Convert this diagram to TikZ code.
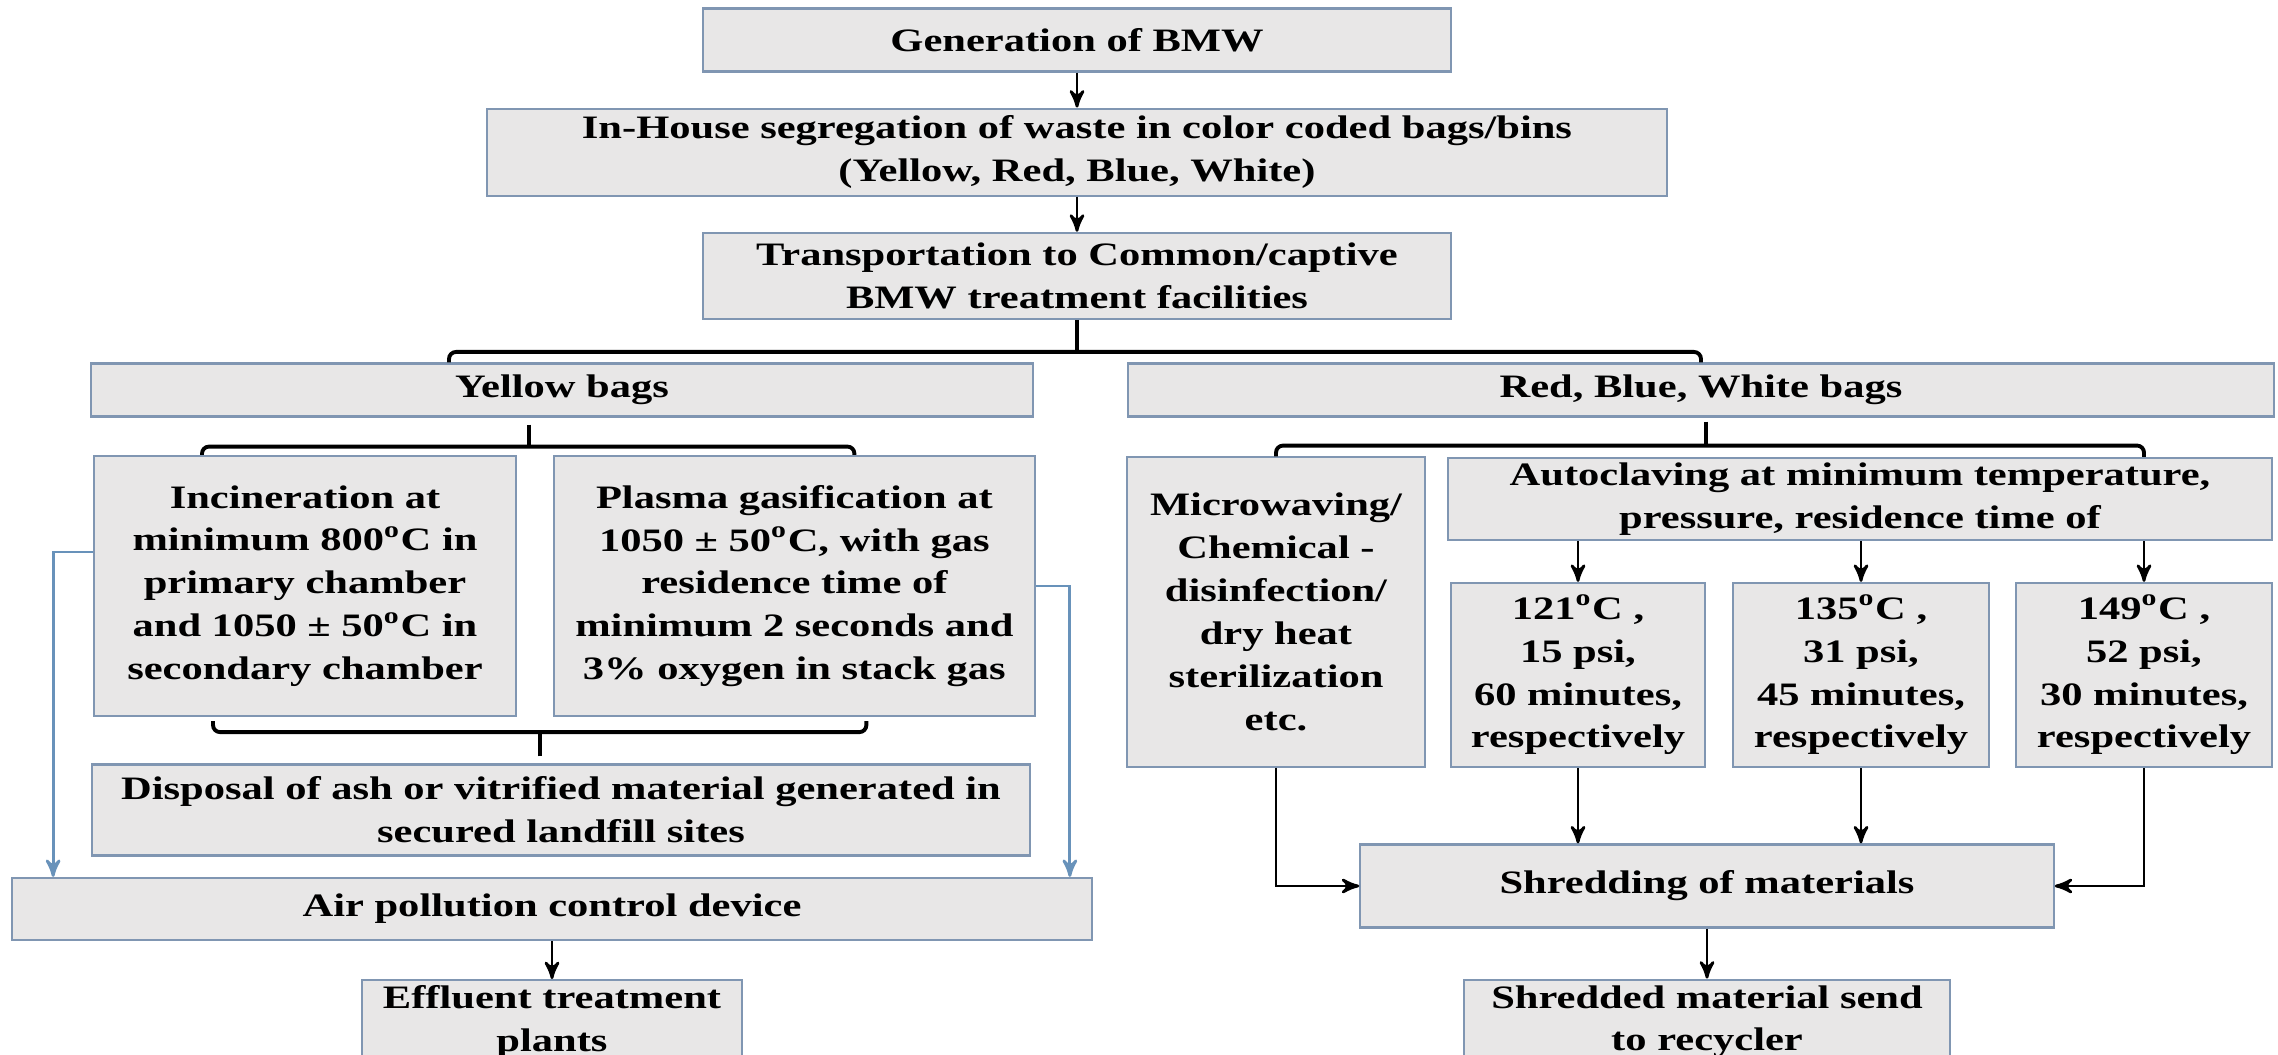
\documentclass[tikz,border=0pt]{standalone}
\usepackage{fontspec}
\setmainfont{Liberation Serif}[FakeStretch=1.3]
\usepackage{tikz}
\usetikzlibrary{positioning,arrows,calc}
\definecolor{boxfill}{RGB}{232,231,231}
\definecolor{boxline}{RGB}{128,150,178}
\definecolor{ventblue}{RGB}{104,146,186}
\newcommand{\degsup}{\textsuperscript{o}}
\tikzset{
   chart/.style={>=stealth',
   x=0.01cm,
   y=-0.01cm,
   node distance=0.35cm},
 box/.style={draw=boxline,fill=boxfill,line width=0.6pt,inner sep=0pt,align=center,
   font=\fontsize{9.3}{12.2}\selectfont\bfseries},
 flow/.style={->,line width=0.8pt},
 bracket/.style={line width=1.1pt,rounded corners=2pt},
 vent/.style={->,draw=ventblue,line width=0.8pt}
 }
\begin{document}
\begin{tikzpicture}[chart]
      \useasboundingbox (0,0) rectangle (2278,1055);
      \node[box,minimum width=7.47cm,minimum height=0.63cm] (gen) at (1077,40) {Generation of BMW};
      \node[box,minimum width=11.8cm,minimum height=0.87cm,below=of gen] (seg) {In-House segregation of waste in color coded bags/bins\\(Yellow, Red, Blue, White)};
      \node[box,minimum width=7.47cm,minimum height=0.86cm,below=of seg] (trans) {Transportation to Common/captive\\BMW treatment facilities};
      \node[box,minimum width=9.41cm,minimum height=0.53cm] (yellow) at (562,390) {Yellow bags};
      \node[box,minimum width=11.46cm,minimum height=0.53cm] (rbw) at (1701,390) {Red, Blue, White bags};
      \node[box,minimum width=4.21cm,minimum height=2.6cm] (incin) at (305,586) {Incineration at\\minimum 800\degsup C in\\primary chamber\\and 1050 ± 50\degsup C in\\secondary chamber};
      \node[box,minimum width=4.81cm,minimum height=2.6cm,right=0.36cm of incin] (plasma) {Plasma gasification at\\1050 ± 50\degsup C, with gas\\residence time of\\minimum 2 seconds and\\3\% oxygen in stack gas};
      \node[box,minimum width=9.38cm,minimum height=0.91cm] (disp) at (561,810) {Disposal of ash or vitrified material generated in\\secured landfill sites};
      \node[box,minimum width=10.79cm,minimum height=0.62cm] (apc) at (552,909) {Air pollution control device};
      \node[box,minimum width=3.79cm,minimum height=0.84cm,below=0.38cm of apc] (eff) {Effluent treatment\\plants};
      \node[box,minimum width=2.97cm,minimum height=3.09cm] (micro) at (1276,612) {Microwaving/\\Chemical -\\disinfection/\\dry heat\\sterilization\\etc.};
      \node[box,minimum width=8.24cm,minimum height=0.82cm] (auto) at (1860,499) {Autoclaving at minimum temperature,\\pressure, residence time of};
      \node[box,minimum width=2.54cm,minimum height=1.84cm] (t121) at (1578,675) {121\degsup C ,\\15 psi,\\60 minutes,\\respectively};
      \node[box,minimum width=2.56cm,minimum height=1.84cm] (t135) at (1861,675) {135\degsup C ,\\31 psi,\\45 minutes,\\respectively};
      \node[box,minimum width=2.56cm,minimum height=1.84cm] (t149) at (2144,675) {149\degsup C ,\\52 psi,\\30 minutes,\\respectively};
      \node[box,minimum width=6.93cm,minimum height=0.83cm] (shred) at (1707,886) {Shredding of materials};
      \node[box,minimum width=4.85cm,minimum height=0.84cm,below=0.5cm of shred] (recyc) {Shredded material send\\to recycler};
      % main line
      \draw[flow] (gen) -- (seg);
      \draw[flow] (seg) -- (trans);
      \draw[bracket] (trans.south) -- ++(0,32) coordinate (tb);
      \draw[bracket] ($(yellow.north)+(-113,0)$) |- (tb) -| (rbw.north);
      % yellow bags
      \draw[bracket] ($(yellow.south)+(-33,7)$) -- ++(0,22) coordinate (yb);
      \draw[bracket] ($(incin.north)+(-103,0)$) |- (yb) -| ($(plasma.north)+(60,0)$);
      \draw[bracket] ($(incin.south)+(-92,4)$) -- ++(0,11) -| ($(plasma.south)+(72,4)$);
      \draw[bracket] ($(disp.north)+(-21,-7)$) -- ++(0,-26);
      \draw[vent] ($(incin.west)+(0,-34)$) -| ($(apc.north west)+(42,0)$);
      \draw[vent] (plasma.east) -| ($(apc.north east)+(-23,0)$);
      \draw[flow] (apc) -- (eff);
      % red, blue, white bags
      \draw[bracket] ($(rbw.south)+(5,4)$) -- ++(0,24) coordinate (rb);
      \draw[bracket] (micro.north) |- (rb) -| (t149 |- auto.north);
      \foreach \t in {t121,t135,t149} \draw[flow] (\t |- auto.south) -- (\t);
      \foreach \t in {t121,t135} \draw[flow] (\t) -- (\t |- shred.north);
      \draw[flow] (micro) |- (shred);
      \draw[flow] (t149) |- (shred);
      \draw[flow] (shred) -- (recyc);
\end{tikzpicture}
\end{document}
